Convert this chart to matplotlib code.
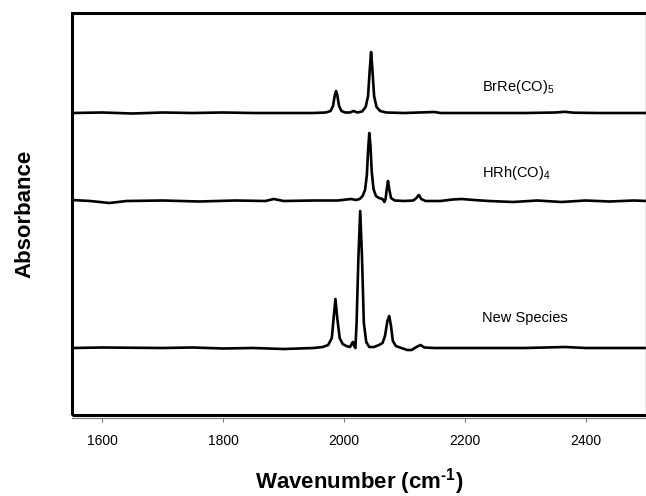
import matplotlib
matplotlib.use("Agg")
import matplotlib.pyplot as plt
from matplotlib.patches import Rectangle

plt.rcParams['font.family'] = ['Liberation Sans', 'DejaVu Sans']
plt.rcParams['axes.unicode_minus'] = False

# --- spectra (wavenumber, absorbance above own baseline) ---
brre_wn = [1550, 1600, 1650, 1700, 1750, 1800, 1850, 1900, 1950, 1970, 1978, 1982,
           1985, 1987, 1989, 1992, 1996, 2002, 2010, 2016, 2022, 2030, 2036, 2040,
           2043, 2045, 2047, 2050, 2054, 2060, 2070, 2100, 2150, 2160, 2200, 2300,
           2350, 2366, 2380, 2420, 2500]
brre_abs = [0.0, 0.005, -0.005, 0.005, 0.0, 0.005, 0.0, 0.0, 0.0, 0.005, 0.02, 0.07,
            0.18, 0.22, 0.18, 0.07, 0.02, 0.005, 0.005, 0.02, 0.005, 0.015, 0.06, 0.17,
            0.45, 0.61, 0.45, 0.17, 0.06, 0.02, 0.005, 0.0, 0.01, 0.0, 0.0, 0.0,
            0.005, 0.012, 0.003, 0.0, 0.0]

hrh_wn = [1550, 1580, 1612, 1640, 1700, 1760, 1820, 1870, 1884, 1900, 1950, 1990,
          2012, 2020, 2026, 2031, 2035, 2038, 2040, 2042, 2044, 2046, 2049, 2053,
          2058, 2064, 2067, 2069, 2071, 2073, 2075, 2078, 2084, 2100, 2115, 2120,
          2124, 2128, 2135, 2160, 2180, 2195, 2215, 2240, 2280, 2320, 2360, 2400,
          2440, 2480, 2500]
hrh_abs = [0.01, 0.0, -0.02, 0.0, 0.005, -0.005, 0.005, 0.0, 0.02, 0.0, 0.005, 0.005,
           0.02, 0.01, 0.02, 0.05, 0.11, 0.26, 0.50, 0.68, 0.55, 0.30, 0.12, 0.05,
           0.03, 0.02, -0.01, 0.02, 0.12, 0.20, 0.12, 0.03, 0.005, 0.0, 0.005, 0.03,
           0.06, 0.02, 0.0, 0.0, 0.015, 0.02, 0.01, 0.0, -0.01, 0.005, -0.01, 0.005,
           -0.005, 0.005, 0.0]

new_wn = [1550, 1600, 1700, 1750, 1800, 1850, 1900, 1950, 1965, 1974, 1980, 1983,
          1986, 1989, 1993, 1998, 2004, 2010, 2013, 2015, 2017, 2019, 2021, 2024,
          2027, 2030, 2033, 2037, 2042, 2050, 2058, 2064, 2068, 2072, 2075, 2078,
          2081, 2086, 2095, 2105, 2112, 2120, 2127, 2133, 2150, 2200, 2300, 2366,
          2400, 2500]
new_abs = [0.0, 0.005, 0.0, 0.005, -0.005, 0.0, -0.01, 0.0, 0.01, 0.03, 0.10, 0.30,
           0.49, 0.30, 0.10, 0.04, 0.02, 0.01, 0.04, 0.06, 0.02, 0.0, 0.25, 0.90,
           1.37, 0.90, 0.25, 0.06, 0.01, 0.01, 0.03, 0.05, 0.12, 0.27, 0.32, 0.22,
           0.07, 0.02, 0.0, -0.02, -0.02, 0.01, 0.03, 0.005, 0.0, 0.0, 0.0, 0.01,
           0.0, 0.0]

spectra = [(brre_wn, brre_abs), (hrh_wn, hrh_abs), (new_wn, new_abs)]
offsets = [3.02, 2.14, 0.67]
names = ['BrRe(CO)$_\\mathregular{5}$', 'HRh(CO)$_\\mathregular{4}$', 'New Species']
name_y = [3.28, 2.42, 0.97]
ticks = [1600, 1800, 2000, 2200, 2400]

fig = plt.figure(figsize=(6.46, 4.96), dpi=100)
ax = fig.add_axes([72 / 646, 81 / 496, 1 - 72 / 646, 402 / 496])

for (wn, ab), off in zip(spectra, offsets):
    ax.plot(wn, [a + off for a in ab], color='black', lw=1.9,
            solid_joinstyle='round', solid_capstyle='round')

for name, yy in zip(names, name_y):
    ax.text(2229, yy, name, fontsize=10.5, ha='left', va='center')

ax.set_xlim(1550, 2500)
ax.set_ylim(0, 4.02)
ax.set_xticks(ticks)
ax.set_yticks([])

# thick plot-area border (right side runs off the edge), thin axis line with ticks below it
ax.add_patch(Rectangle((0, 0), 1.01, 1, transform=ax.transAxes, fill=False,
                       lw=2.2, edgecolor='black', clip_on=False, zorder=5))
ax.axvline(2500, color='#888888', lw=1.0, zorder=6)
for s in ['top', 'right', 'left']:
    ax.spines[s].set_visible(False)
ax.spines['bottom'].set_position(('outward', 2))
ax.spines['bottom'].set_color('#777777')
ax.spines['bottom'].set_linewidth(0.8)
ax.tick_params(axis='x', direction='out', length=3, width=0.8, color='#777777',
               labelsize=10, pad=9)

ax.set_xlabel('Wavenumber (cm$^\\mathregular{\u20101}$)', fontsize=16, fontweight='bold',
              labelpad=13)
ax.set_ylabel('Absorbance', fontsize=16, fontweight='bold', labelpad=26)

fig.savefig('out.png', dpi=100)
